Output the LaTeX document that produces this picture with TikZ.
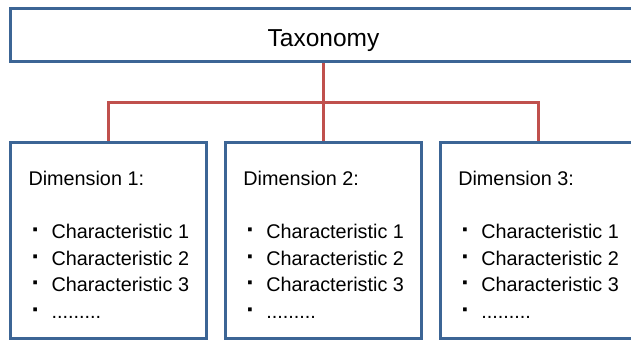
\documentclass[tikz,border=0pt]{standalone}
\usepackage{fontspec}
\setmainfont{Liberation Sans}
\definecolor{bord}{HTML}{3C6595}
\definecolor{linkred}{HTML}{C0504D}
\newcommand{\bul}{\makebox[23pt][l]{\hspace{3pt}{\fontsize{26}{26}\selectfont\bfseries\char"00B7}}}
\begin{document}
\begin{tikzpicture}[x=1pt,y=-1pt,
  box/.style={draw=bord, line width=3pt, fill=white, inner sep=0pt, outer sep=0pt, rectangle},
  link/.style={draw=linkred, line width=3pt},
  txt/.style={inner sep=0pt, outer sep=0pt, anchor=base west, font=\fontsize{19.8}{23}\selectfont}]
\useasboundingbox (0,0) rectangle (631,341);
\clip (0,0) rectangle (631,341);
\fill[white] (0,0) rectangle (631,341);
\node[box, minimum width=626pt, minimum height=52.8pt, text height=22.2pt, text depth=0pt,
  font=\fontsize{24.5}{28}\selectfont] (top) at (323.5,34.9) {Taxonomy};
\foreach \i/\x in {1/108.6, 2/323.5, 3/538.4} {
  \node[box, minimum width=196.2pt, minimum height=196pt] (d\i) at (\x,240.5) {};
  \node[txt] (h\i) at ([xshift=18pt,yshift=-42.5pt]d\i.north west) {Dimension \i:};
  \node[txt] (c\i a) at ([xshift=18pt,yshift=-95.8pt]d\i.north west) {\bul Characteristic 1};
  \node[txt] (c\i b) at ([xshift=18pt,yshift=-122.5pt]d\i.north west) {\bul Characteristic 2};
  \node[txt] (c\i c) at ([xshift=18pt,yshift=-149.2pt]d\i.north west) {\bul Characteristic 3};
  \node[txt] (c\i d) at ([xshift=18pt,yshift=-175.8pt]d\i.north west) {\bul .........};
}
\coordinate (bar) at (323.5,102.5);
\draw[link, shorten <=1.5pt, shorten >=1.5pt] (top.south) -- (d2.north);
\draw[link, shorten <=1.5pt, shorten >=1.5pt] (d1.north) |- (bar) -| (d3.north);
\end{tikzpicture}
\end{document}
